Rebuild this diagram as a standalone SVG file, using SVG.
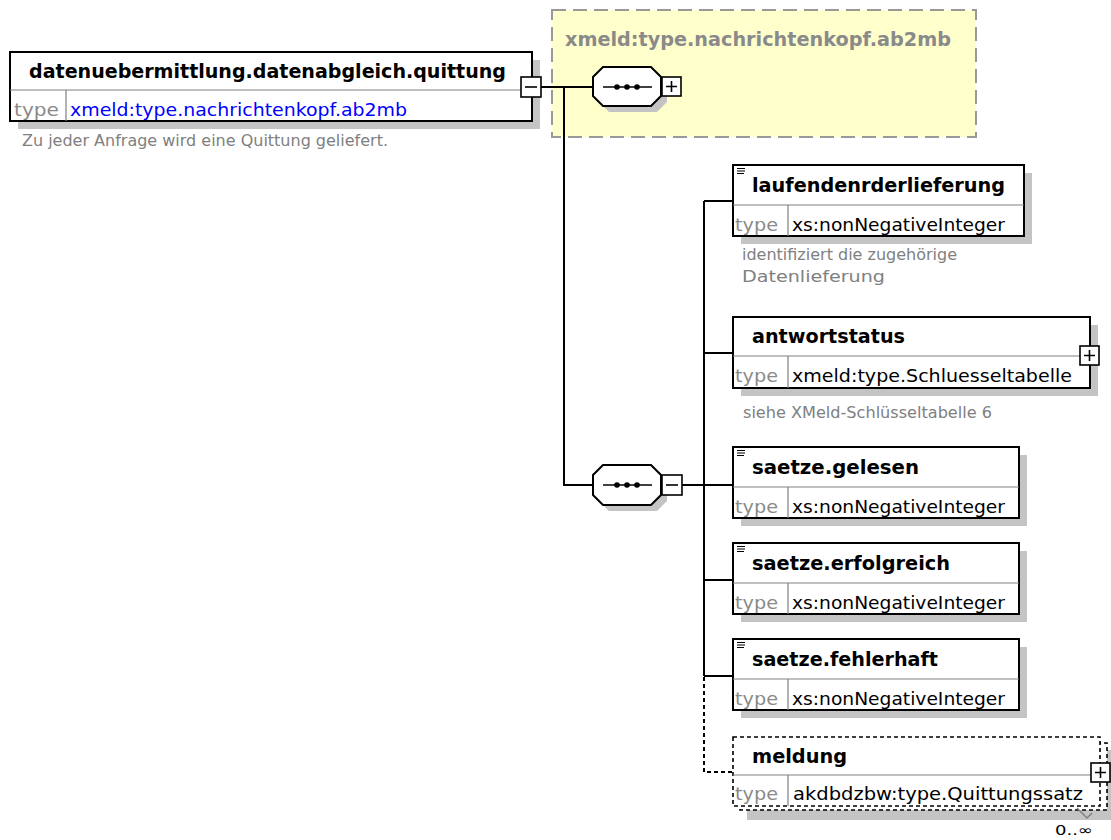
<svg xmlns="http://www.w3.org/2000/svg" xmlns:xlink="http://www.w3.org/1999/xlink" width="1111" height="840" viewBox="0 0 1111 840">
<style>
.bg{fill:#fff}
.box{fill:#fff;stroke:#000;stroke-width:2}
.dbox{fill:#fff;stroke:#000;stroke-width:1.6;stroke-dasharray:4,3}
.shadow{fill:#c4c4c4}
.div{stroke:#808080;stroke-width:1.2;fill:none}
.name{font-family:'DejaVu Sans',Verdana,sans-serif;font-weight:bold;font-size:19px;fill:#000}
.tl{font-family:'DejaVu Sans',Verdana,sans-serif;font-size:18px;fill:#8a8a8a}
.tv{font-family:'DejaVu Sans',Verdana,sans-serif;font-size:18px;fill:#000}
.tvb{font-family:'DejaVu Sans',Verdana,sans-serif;font-size:18px;fill:#0000ff}
.desc{font-family:'DejaVu Sans',Verdana,sans-serif;font-size:15px;fill:#808080}
.card{font-family:'DejaVu Sans',Verdana,sans-serif;font-size:14px;fill:#000}
.conn{stroke:#000;stroke-width:2;fill:none}
.dconn{stroke:#000;stroke-width:2;fill:none;stroke-dasharray:4,3}
.pm{fill:#fff;stroke:#000;stroke-width:1.6}
.pml{stroke:#000;stroke-width:1.6;fill:none}
.ico{stroke:#000;stroke-width:1.2;fill:none}
.oct{fill:#fff;stroke:#000;stroke-width:2}
.octs{fill:#c4c4c4}
.ygrp{fill:#ffffcc;stroke:#999;stroke-width:2;stroke-dasharray:14,7}
.ylab{font-family:'DejaVu Sans',Verdana,sans-serif;font-weight:bold;font-size:19px;fill:#8a8a8a}
</style>
<defs>
<g id="plus"><rect x="0" y="0" width="19" height="19" class="pm"/><path d="M4 9.5H15M9.5 4V15" class="pml"/></g>
<g id="minus"><rect x="0" y="0" width="20" height="20" class="pm"/><path d="M4 10H16" class="pml"/></g>
<g id="icon"><path d="M0 0.5H8M0 3H8M0 5.5H7" class="ico"/></g>
<g id="seqdots"><path d="M10 0H59" class="pml"/><circle cx="24" cy="0" r="2.8"/><circle cx="34" cy="0" r="2.8"/><circle cx="44" cy="0" r="2.8"/></g>
</defs>
<rect class="bg" x="0" y="0" width="1111" height="840"/>

<g id="group-nachrichtenkopf">
<rect class="ygrp" x="552" y="10" width="424" height="127"/>
<text class="ylab" x="565" y="46" textLength="386" lengthAdjust="spacingAndGlyphs">xmeld:type.nachrichtenkopf.ab2mb</text>
</g>

<g id="connectors">
<path class="conn" d="M541 87H593"/>
<path class="conn" d="M564 87V485H593"/>
<path class="conn" d="M682 485H704"/>
<path class="conn" d="M704 201V676"/>
<path class="conn" d="M704 201H733"/>
<path class="conn" d="M704 353H733"/>
<path class="conn" d="M704 485H733"/>
<path class="conn" d="M704 580H733"/>
<path class="conn" d="M704 676H733"/>
<path class="dconn" d="M704 677V772H733"/>
</g>

<g id="root">
<rect class="shadow" x="18" y="60" width="522" height="69"/>
<rect class="box" x="10" y="52" width="522" height="69"/>
<path class="div" d="M10 90H532M66 90V121"/>
<text class="name" x="29" y="78" textLength="477" lengthAdjust="spacingAndGlyphs">datenuebermittlung.datenabgleich.quittung</text>
<text class="tl" x="14" y="116" textLength="45" lengthAdjust="spacingAndGlyphs">type</text>
<text class="tvb" x="70" y="116" textLength="337" lengthAdjust="spacingAndGlyphs">xmeld:type.nachrichtenkopf.ab2mb</text>
<use xlink:href="#minus" x="521" y="77"/>
<text class="desc" x="22" y="146" textLength="366" lengthAdjust="spacingAndGlyphs">Zu jeder Anfrage wird eine Quittung geliefert.</text>
</g>

<g id="seq1">
<polygon class="octs" points="609,73 657,73 667,83 667,102 657,112 609,112 599,102 599,83"/>
<polygon class="oct" points="603,67 651,67 661,77 661,96 651,106 603,106 593,96 593,77"/>
<use xlink:href="#seqdots" x="593" y="87"/>
<use xlink:href="#plus" x="662" y="77"/>
</g>

<g id="seq2">
<polygon class="octs" points="609,471 657,471 667,481 667,501 657,511 609,511 599,501 599,481"/>
<polygon class="oct" points="603,465 651,465 661,475 661,495 651,505 603,505 593,495 593,475"/>
<use xlink:href="#seqdots" x="593" y="485"/>
<use xlink:href="#minus" x="662" y="475"/>
</g>

<g id="laufendenrderlieferung">
<rect class="shadow" x="741" y="173" width="291" height="71"/>
<rect class="box" x="733" y="165" width="291" height="71"/>
<path class="div" d="M733 205H1024M788 205V236"/>
<use xlink:href="#icon" x="737" y="168"/>
<text class="name" x="752" y="192" textLength="253" lengthAdjust="spacingAndGlyphs">laufendenrderlieferung</text>
<text class="tl" x="735" y="231" textLength="43" lengthAdjust="spacingAndGlyphs">type</text>
<text class="tv" x="792" y="231" textLength="213" lengthAdjust="spacingAndGlyphs">xs:nonNegativeInteger</text>
<text class="desc" x="742" y="260" textLength="215" lengthAdjust="spacingAndGlyphs">identifiziert die zugehörige</text>
<text class="desc" x="742" y="282" textLength="143" lengthAdjust="spacingAndGlyphs">Datenlieferung</text>
</g>

<g id="antwortstatus">
<rect class="shadow" x="741" y="325" width="357" height="71"/>
<rect class="box" x="733" y="317" width="357" height="71"/>
<path class="div" d="M733 356H1090M788 356V388"/>
<text class="name" x="752" y="343" textLength="153" lengthAdjust="spacingAndGlyphs">antwortstatus</text>
<text class="tl" x="735" y="382" textLength="43" lengthAdjust="spacingAndGlyphs">type</text>
<text class="tv" x="792" y="382" textLength="280" lengthAdjust="spacingAndGlyphs">xmeld:type.Schluesseltabelle</text>
<use xlink:href="#plus" x="1080" y="346"/>
<text class="desc" x="743" y="418" textLength="249" lengthAdjust="spacingAndGlyphs">siehe XMeld-Schlüsseltabelle 6</text>
</g>

<g id="saetze.gelesen">
<rect class="shadow" x="741" y="455" width="286" height="71"/>
<rect class="box" x="733" y="447" width="286" height="71"/>
<path class="div" d="M733 487H1019M788 487V518"/>
<use xlink:href="#icon" x="737" y="450"/>
<text class="name" x="752" y="474" textLength="167" lengthAdjust="spacingAndGlyphs">saetze.gelesen</text>
<text class="tl" x="735" y="513" textLength="43" lengthAdjust="spacingAndGlyphs">type</text>
<text class="tv" x="792" y="513" textLength="213" lengthAdjust="spacingAndGlyphs">xs:nonNegativeInteger</text>
</g>

<g id="saetze.erfolgreich">
<rect class="shadow" x="741" y="551" width="286" height="71"/>
<rect class="box" x="733" y="543" width="286" height="71"/>
<path class="div" d="M733 583H1019M788 583V614"/>
<use xlink:href="#icon" x="737" y="546"/>
<text class="name" x="752" y="570" textLength="198" lengthAdjust="spacingAndGlyphs">saetze.erfolgreich</text>
<text class="tl" x="735" y="609" textLength="43" lengthAdjust="spacingAndGlyphs">type</text>
<text class="tv" x="792" y="609" textLength="213" lengthAdjust="spacingAndGlyphs">xs:nonNegativeInteger</text>
</g>

<g id="saetze.fehlerhaft">
<rect class="shadow" x="741" y="647" width="286" height="71"/>
<rect class="box" x="733" y="639" width="286" height="71"/>
<path class="div" d="M733 679H1019M788 679V710"/>
<use xlink:href="#icon" x="737" y="642"/>
<text class="name" x="752" y="666" textLength="186" lengthAdjust="spacingAndGlyphs">saetze.fehlerhaft</text>
<text class="tl" x="735" y="705" textLength="43" lengthAdjust="spacingAndGlyphs">type</text>
<text class="tv" x="792" y="705" textLength="213" lengthAdjust="spacingAndGlyphs">xs:nonNegativeInteger</text>
</g>

<g id="meldung">
<rect class="shadow" x="747" y="750" width="364" height="70"/>
<rect class="dbox" x="740" y="743" width="367" height="67"/>
<rect class="dbox" x="733" y="737" width="367" height="69"/>
<path class="div" d="M733 775H1100M788 775V806"/>
<text class="name" x="752" y="763" textLength="95" lengthAdjust="spacingAndGlyphs">meldung</text>
<text class="tl" x="735" y="800" textLength="43" lengthAdjust="spacingAndGlyphs">type</text>
<text class="tv" x="793" y="800" textLength="290" lengthAdjust="spacingAndGlyphs">akdbdzbw:type.Quittungssatz</text>
<use xlink:href="#plus" x="1091" y="763"/>
<path d="M1077 808L1087 818L1092 813" stroke="#808080" stroke-width="1.5" fill="none"/>
<text class="card" x="1055" y="835" textLength="38" lengthAdjust="spacingAndGlyphs">0..∞</text>
</g>
</svg>
